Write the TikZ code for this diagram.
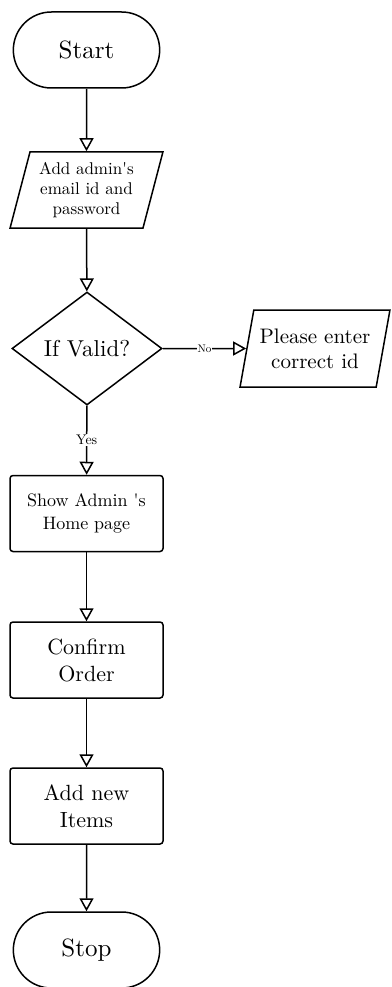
\documentclass[tikz,border=0pt]{standalone}
\usepackage{fontspec}
\setmainfont{lmroman10-regular.otf}
\usetikzlibrary{arrows.meta, shapes.geometric, shapes.misc}

\begin{document}
\begin{tikzpicture}[x=1pt, y=-1pt, line width=1.5pt,
terminal/.style={rounded rectangle, draw, minimum width=153pt, minimum height=76pt, font=\fontsize{25}{30}\selectfont},
io/.style={trapezium, draw, trapezium left angle=75, trapezium right angle=105, trapezium stretches=true, align=center, inner xsep=0pt},
process/.style={rectangle, draw, rounded corners=3pt, minimum width=153pt, minimum height=76pt, align=center},
decision/.style={diamond, draw, minimum width=150pt, minimum height=113pt, inner sep=0pt, font=\fontsize{23}{28}\selectfont},
flow/.style={-{Triangle[open, width=14pt, length=13pt]}}]
\tikzstyle{tag}=[fill=white, inner sep=1pt, line width=0pt]
 \def\cx{86.5}
\useasboundingbox (0,0) rectangle (391,987);
%flow chart
\node[terminal] (start) at (\cx,50) {Start};
\node[io, minimum width=153pt, minimum height=76pt, font=\fontsize{17}{20}\selectfont] (input) at (\cx,190) {Add admin\textquotesingle s\\email id and\\password};
\node[decision] (valid) at (87,348.5) {If Valid?};
\node[io, minimum width=150pt, minimum height=77pt, font=\fontsize{21}{25}\selectfont] (retry) at (315,348.5) {Please enter\\correct id};
\node[process, font=\fontsize{18}{23}\selectfont] (home) at (\cx,513.5) {Show Admin \textquotesingle s\\Home page};
\node[process, font=\fontsize{22}{27}\selectfont] (confirm) at (\cx,660) {Confirm\\Order};
\node[process, font=\fontsize{22}{27}\selectfont] (items) at (\cx,806) {Add new\\Items};
\node[terminal] (stop) at (\cx,950) {Stop};
%connectors
\draw[flow] (start) -- (input);
\draw[flow] (input) -- (valid);
\draw[flow] (valid) -- node[tag, font=\fontsize{11}{13}\selectfont] {No} (retry);
\draw[flow] (valid) -- node[tag, font=\fontsize{14}{16}\selectfont] {Yes} (home);
\draw[flow] (home) -- (confirm);
\draw[flow] (confirm) -- (items);
\draw[flow] (items) -- (stop);
\end{tikzpicture}
\end{document}
